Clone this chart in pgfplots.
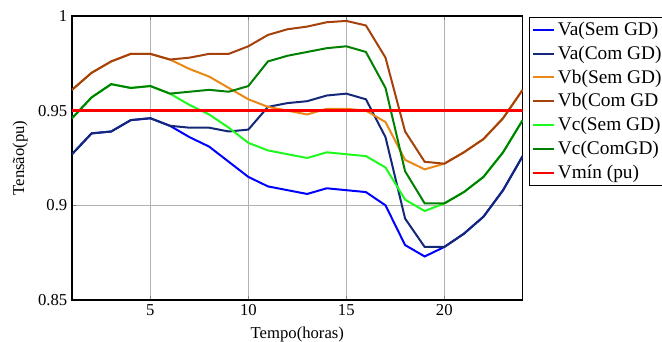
\documentclass[border=0pt]{standalone}
\usepackage{pgfplots}
\pgfplotsset{compat=1.18}
\usepackage{fontspec}
\setmainfont{Liberation Serif}
\definecolor{cA}{RGB}{0,0,255}
\definecolor{cB}{RGB}{20,40,120}
\definecolor{cC}{RGB}{235,135,20}
\definecolor{cD}{RGB}{165,65,10}
\definecolor{cE}{RGB}{30,250,30}
\definecolor{cF}{RGB}{0,128,0}
\definecolor{cG}{RGB}{255,0,0}
\begin{document}
\begin{tikzpicture}
\begin{axis}[
  scale only axis, width=338pt, height=213pt,
  xmin=1, xmax=24, ymin=0.85, ymax=1,
  xtick={5,10,15,20}, ytick={0.85,0.9,0.95,1},
  yticklabels={0.85,0.9,0.95,1},
  grid=major, major grid style={gray!60, line width=0.5pt},
  tick align=inside, axis line style={line width=0.8pt},
  major tick length=3pt,
  tick label style={font=\fontsize{12.5}{14}\selectfont},
  label style={font=\fontsize{12.5}{14}\selectfont},
  xlabel={Tempo(horas)}, ylabel={Tensão(pu)},
  xlabel style={yshift=-1pt},
  ylabel style={yshift=1pt},
  /pgf/number format/assume math mode=true,
  legend style={at={(1.014,0.996)}, anchor=north west, draw=black, line width=0.5pt,
    font=\fontsize{14.5}{16.5}\selectfont, row sep=2.3pt, inner xsep=2pt, inner ysep=1.5pt},
  legend cell align=left,
  legend image code/.code={\draw[#1, line width=1.5pt] (0pt,0pt) -- (16pt,0pt);},
  every axis plot/.append style={line width=1.5pt},
]
\addplot[cA] coordinates {(1,0.927)(2,0.938)(3,0.939)(4,0.945)(5,0.946)(6,0.942)(7,0.936)(8,0.931)(9,0.923)(10,0.915)(11,0.910)(12,0.908)(13,0.906)(14,0.909)(15,0.908)(16,0.907)(17,0.900)(18,0.879)(19,0.873)(20,0.878)(21,0.885)(22,0.894)(23,0.908)(24,0.926)};
\addlegendentry{Va(Sem GD)}
\addplot[cB] coordinates {(1,0.927)(2,0.938)(3,0.939)(4,0.945)(5,0.946)(6,0.942)(7,0.941)(8,0.941)(9,0.939)(10,0.940)(11,0.952)(12,0.954)(13,0.955)(14,0.958)(15,0.959)(16,0.956)(17,0.936)(18,0.893)(19,0.878)(20,0.878)(21,0.885)(22,0.894)(23,0.908)(24,0.926)};
\addlegendentry{Va(Com GD)}
\addplot[cC] coordinates {(1,0.961)(2,0.970)(3,0.976)(4,0.980)(5,0.980)(6,0.977)(7,0.972)(8,0.968)(9,0.962)(10,0.956)(11,0.952)(12,0.950)(13,0.948)(14,0.951)(15,0.951)(16,0.950)(17,0.944)(18,0.924)(19,0.919)(20,0.922)(21,0.928)(22,0.935)(23,0.946)(24,0.961)};
\addlegendentry{Vb(Sem GD)}
\addplot[cD] coordinates {(1,0.961)(2,0.970)(3,0.976)(4,0.980)(5,0.980)(6,0.977)(7,0.978)(8,0.980)(9,0.980)(10,0.984)(11,0.990)(12,0.993)(13,0.9944)(14,0.9967)(15,0.9974)(16,0.995)(17,0.978)(18,0.939)(19,0.923)(20,0.922)(21,0.928)(22,0.935)(23,0.946)(24,0.961)};
\addlegendentry{Vb(Com GD}
\addplot[cE] coordinates {(1,0.946)(2,0.957)(3,0.964)(4,0.962)(5,0.963)(6,0.959)(7,0.953)(8,0.948)(9,0.941)(10,0.933)(11,0.929)(12,0.927)(13,0.925)(14,0.928)(15,0.927)(16,0.926)(17,0.920)(18,0.903)(19,0.897)(20,0.901)(21,0.907)(22,0.915)(23,0.928)(24,0.945)};
\addlegendentry{Vc(Sem GD)}
\addplot[cF] coordinates {(1,0.946)(2,0.957)(3,0.964)(4,0.962)(5,0.963)(6,0.959)(7,0.960)(8,0.961)(9,0.960)(10,0.963)(11,0.976)(12,0.979)(13,0.981)(14,0.983)(15,0.984)(16,0.981)(17,0.962)(18,0.918)(19,0.901)(20,0.901)(21,0.907)(22,0.915)(23,0.928)(24,0.945)};
\addlegendentry{Vc(ComGD)}
\addplot[cG, line width=2pt] coordinates {(1,0.95)(24,0.95)};
\addlegendentry{Vmín (pu)}
\end{axis}
\pgfresetboundingbox
\useasboundingbox (current axis.south west) ++(-54pt,-31.5pt) rectangle ++(496.5pt,256.5pt);
\end{tikzpicture}
\end{document}
